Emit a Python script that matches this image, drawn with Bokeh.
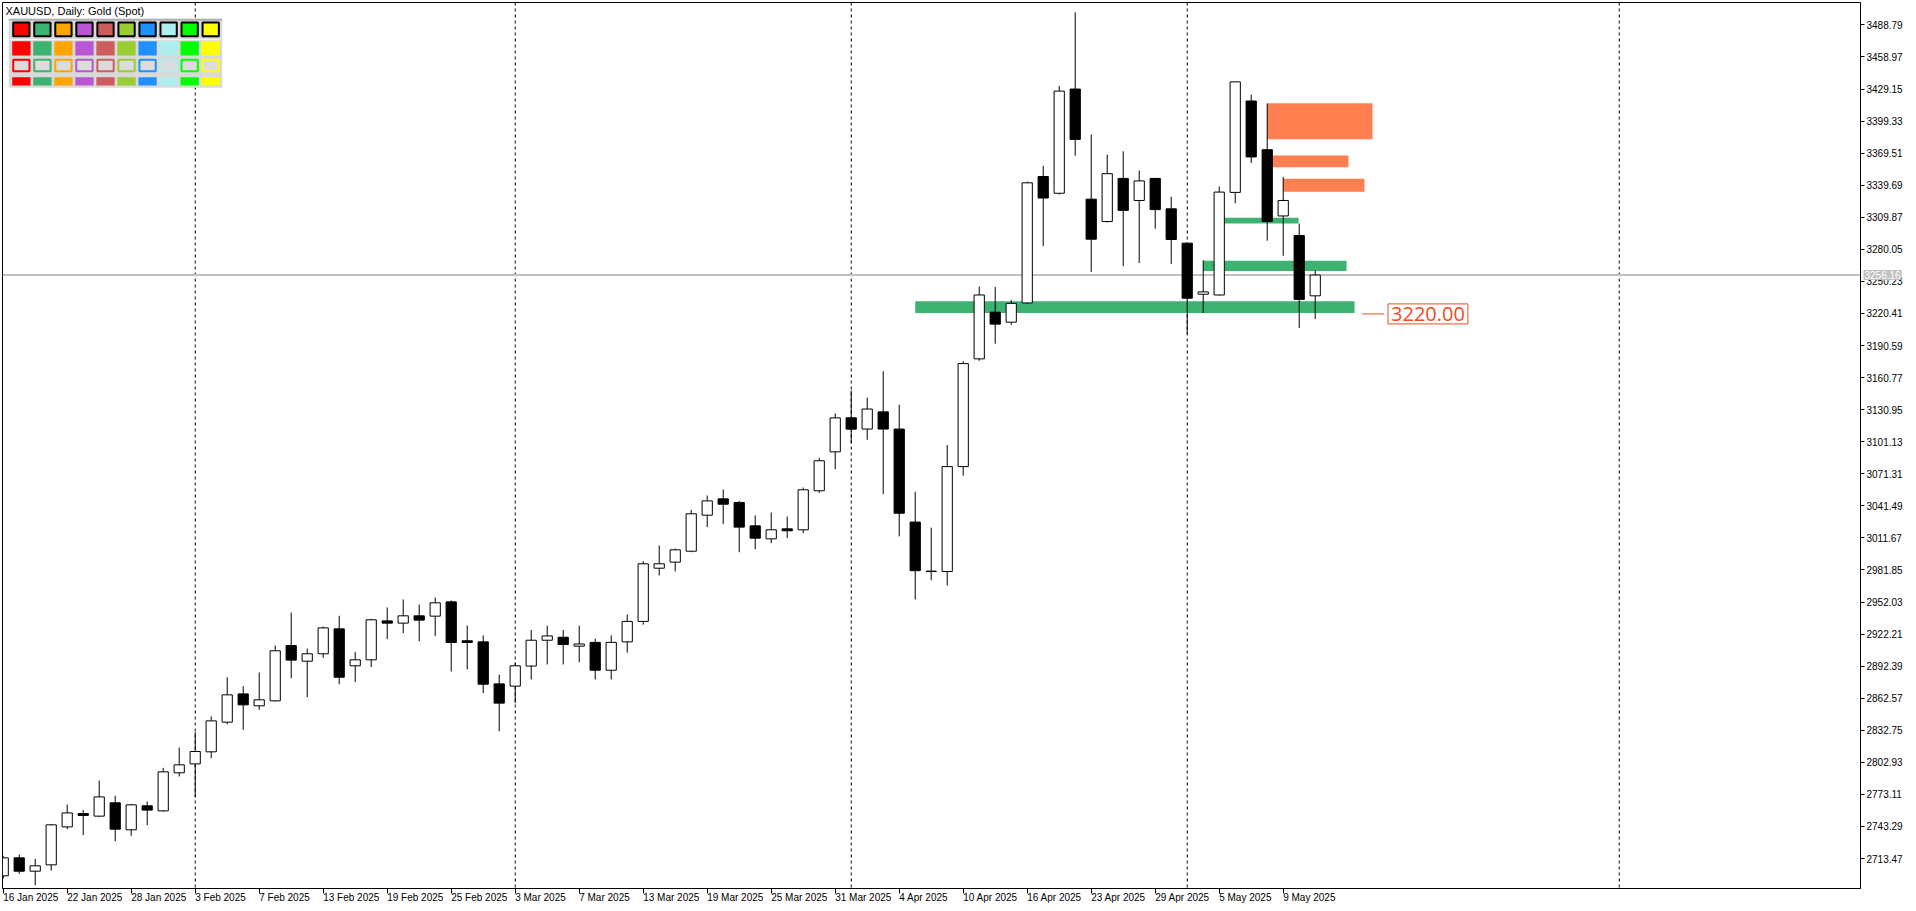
import datetime as dt
from bokeh.plotting import figure
from bokeh.models import Range1d, FixedTicker, NumeralTickFormatter, Span, Label
from bokeh.embed import file_html
from bokeh.resources import INLINE

# ---------------- data ----------------
dates = [
    "2025-01-16", "2025-01-17", "2025-01-20", "2025-01-21", "2025-01-22", "2025-01-23", "2025-01-24",
    "2025-01-27", "2025-01-28", "2025-01-29", "2025-01-30", "2025-01-31",
    "2025-02-03", "2025-02-04", "2025-02-05", "2025-02-06", "2025-02-07", "2025-02-10", "2025-02-11",
    "2025-02-12", "2025-02-13", "2025-02-14", "2025-02-17", "2025-02-18", "2025-02-19", "2025-02-20",
    "2025-02-21", "2025-02-24", "2025-02-25", "2025-02-26", "2025-02-27", "2025-02-28",
    "2025-03-03", "2025-03-04", "2025-03-05", "2025-03-06", "2025-03-07", "2025-03-10", "2025-03-11",
    "2025-03-12", "2025-03-13", "2025-03-14", "2025-03-17", "2025-03-18", "2025-03-19", "2025-03-20",
    "2025-03-21", "2025-03-24", "2025-03-25", "2025-03-26", "2025-03-27", "2025-03-28", "2025-03-31",
    "2025-04-01", "2025-04-02", "2025-04-03", "2025-04-04", "2025-04-07", "2025-04-08", "2025-04-09",
    "2025-04-10", "2025-04-11", "2025-04-14", "2025-04-15", "2025-04-16", "2025-04-17", "2025-04-21",
    "2025-04-22", "2025-04-23", "2025-04-24", "2025-04-25", "2025-04-28", "2025-04-29", "2025-04-30",
    "2025-05-01", "2025-05-02", "2025-05-05", "2025-05-06", "2025-05-07", "2025-05-08", "2025-05-09",
    "2025-05-12", "2025-05-13",
]

opens = [
    2697.4, 2714.1, 2701.7, 2707.6, 2742.9, 2755.3, 2752.9, 2765.3, 2740.2, 2762.5, 2757.8, 2793.2,
    2801.5, 2812.7, 2840.3, 2866.6, 2855.5, 2860.1, 2911.6, 2897.0, 2903.9, 2927.1, 2892.7, 2898.3,
    2934.5, 2932.4, 2939.2, 2938.9, 2952.2, 2916.0, 2915.0, 2875.9,
    2873.8, 2892.5, 2916.5, 2919.3, 2911.0, 2914.5, 2888.6, 2915.0, 2934.0, 2983.5, 2989.1, 2999.3,
    3032.8, 3048.0, 3044.6, 3022.9, 3010.8, 3020.1, 3019.2, 3055.5, 3091.7,
    3123.4, 3112.9, 3128.9, 3112.9, 3026.4, 2980.4, 2980.4, 3078.0, 3178.2, 3221.6, 3212.3, 3230.2,
    3347.8, 3332.2, 3429.1, 3326.7, 3305.9, 3346.0, 3325.5, 3346.0, 3317.7,
    3285.8, 3238.3, 3237.6, 3333.0, 3418.0, 3372.7, 3311.1, 3292.9, 3236.8,
]
highs = [
    2716.0, 2717.2, 2713.2, 2745.7, 2763.7, 2758.7, 2786.0, 2771.8, 2764.3, 2766.5, 2797.8, 2816.7,
    2831.0, 2845.6, 2882.1, 2873.8, 2886.5, 2911.6, 2942.3, 2908.8, 2929.3, 2939.2, 2905.7, 2936.4,
    2947.0, 2954.4, 2949.7, 2956.2, 2953.5, 2930.2, 2920.9, 2884.6,
    2895.8, 2926.0, 2930.0, 2926.0, 2930.0, 2918.0, 2921.0, 2940.4, 2990.0, 3004.6, 3001.8, 3037.8,
    3051.1, 3056.7, 3046.1, 3032.5, 3035.3, 3031.6, 3058.5, 3086.1, 3127.4,
    3148.8, 3142.2, 3166.7, 3135.5, 3054.6, 3021.2, 3098.0, 3176.0, 3245.4, 3245.0, 3232.8, 3343.0,
    3357.8, 3432.0, 3500.5, 3386.8, 3368.2, 3371.2, 3353.4, 3346.5, 3328.9,
    3286.2, 3269.9, 3338.5, 3435.8, 3423.9, 3415.7, 3347.4, 3304.0, 3260.6,
]
lows = [
    2695.0, 2699.2, 2688.7, 2702.3, 2740.8, 2735.2, 2752.0, 2729.6, 2734.6, 2744.5, 2757.0, 2789.8,
    2770.5, 2806.8, 2838.4, 2833.1, 2851.8, 2859.5, 2881.2, 2863.6, 2900.1, 2875.6, 2877.5, 2891.5,
    2917.5, 2923.1, 2915.6, 2920.3, 2887.4, 2889.3, 2867.3, 2831.9,
    2858.0, 2880.0, 2894.0, 2894.0, 2896.0, 2880.0, 2880.0, 2905.0, 2931.0, 2976.7, 2980.4, 2998.4,
    3021.7, 3024.5, 2998.4, 3001.2, 3006.8, 3011.4, 3016.1, 3053.6, 3075.6,
    3099.8, 3102.9, 3052.4, 3013.1, 2954.4, 2972.3, 2967.4, 3069.5, 3176.4, 3192.3, 3209.8, 3229.0,
    3283.2, 3331.1, 3367.1, 3259.1, 3305.1, 3264.3, 3267.3, 3299.2, 3266.5,
    3201.2, 3220.9, 3237.0, 3322.9, 3360.4, 3288.1, 3274.0, 3206.8, 3215.3,
]
closes = [
    2714.1, 2701.7, 2706.7, 2744.8, 2755.9, 2753.5, 2770.8, 2740.8, 2763.4, 2758.5, 2794.1, 2800.6,
    2813.0, 2841.5, 2865.7, 2856.4, 2861.1, 2906.7, 2898.0, 2903.9, 2928.0, 2882.1, 2898.3, 2935.5,
    2932.4, 2939.2, 2935.2, 2951.3, 2914.4, 2914.4, 2875.6, 2858.0,
    2892.7, 2916.5, 2920.5, 2912.5, 2913.0, 2888.6, 2914.5, 2934.0, 2987.6, 2987.6, 3000.6, 3034.1,
    3046.1, 3043.0, 3021.7, 3011.4, 3019.2, 3018.3, 3056.4, 3083.4, 3123.3,
    3112.8, 3131.5, 3112.9, 3034.6, 2981.2, 2980.8, 3078.0, 3173.8, 3237.6, 3210.5, 3229.8, 3341.9,
    3327.8, 3427.2, 3382.3, 3289.5, 3350.4, 3316.3, 3343.7, 3317.0, 3289.2,
    3234.6, 3240.5, 3333.3, 3435.8, 3366.0, 3305.9, 3325.5, 3233.5, 3256.16,
]

price_ticks = [3488.79, 3458.97, 3429.15, 3399.33, 3369.51, 3339.69, 3309.87, 3280.05, 3250.23,
               3220.41, 3190.59, 3160.77, 3130.95, 3101.13, 3071.31, 3041.49, 3011.67, 2981.85,
               2952.03, 2922.21, 2892.39, 2862.57, 2832.75, 2802.93, 2773.11, 2743.29, 2713.47]

# zones (left / right in bar-index units, bottom / top in price)
zone_left = [57, 75, 76, 79, 79, 80]
zone_right = [84.46, 83.96, 80.96, 85.58, 84.08, 85.08]
zone_bottom = [3220.8, 3260.0, 3304.0, 3382.5, 3356.3, 3333.6]
zone_top = [3231.8, 3269.5, 3309.5, 3416.0, 3367.3, 3345.8]
zone_kind = ["support", "support", "support", "resist", "resist", "resist"]

current_price = 3256.16
level_price = 3220.00
next_month = "2025-06-01"

palette = ["#FF0000", "#3CB371", "#FFA500", "#BA55D3", "#CD5C5C",
           "#9ACD32", "#1E90FF", "#AFEEEE", "#00FF00", "#FFFF00"]

title_text = "XAUUSD, Daily:  Gold (Spot)"

# ---------------- derived ----------------
dts = [dt.date.fromisoformat(d) for d in dates]
idx = list(range(len(dts)))
tick_idx = idx[::4]
tick_labels = {i: f"{dts[i].day} {dts[i]:%b} {dts[i].year}" for i in tick_idx}

separators = [i for i in idx[1:] if dts[i].month != dts[i - 1].month]
separators.append(idx[-1] + (dt.date.fromisoformat(next_month) - dts[-1]).days)

# ---------------- figure ----------------
FW, FH = 1858, 886
x_start, x_end = -0.044, 116.08
y_start, y_end = 2685.60, 3509.62

p = figure(frame_width=FW, frame_height=FH,
           x_range=Range1d(x_start, x_end), y_range=Range1d(y_start, y_end),
           y_axis_location="right", output_backend="svg", toolbar_location=None,
           min_border_left=2, min_border_right=0, min_border_top=2, min_border_bottom=0)
p.grid.visible = False
p.background_fill_color = "white"
p.border_fill_color = "white"
p.outline_line_color = "black"
p.outline_line_width = 1

AX_FONT = "Liberation Sans"
p.yaxis.ticker = FixedTicker(ticks=price_ticks)
p.yaxis.formatter = NumeralTickFormatter(format="0.00")
p.yaxis.major_label_text_font = AX_FONT
p.yaxis.major_label_text_font_size = "10px"
p.yaxis.major_label_text_color = "black"
p.yaxis.major_tick_out = 4
p.yaxis.major_tick_in = 0
p.yaxis.minor_tick_out = 0
p.yaxis.minor_tick_in = 0
p.yaxis.major_label_standoff = 2
p.yaxis.axis_line_color = "black"

p.xaxis.ticker = FixedTicker(ticks=tick_idx)
p.xaxis.major_label_overrides = tick_labels
p.xaxis.major_label_text_font = AX_FONT
p.xaxis.major_label_text_font_size = "10px"
p.xaxis.major_label_text_color = "black"
p.xaxis.major_label_orientation = -1e-6   # tiny angle -> labels start at their tick (MT5 style)
p.xaxis.major_tick_out = 5
p.xaxis.major_tick_in = 0
p.xaxis.minor_tick_out = 0
p.xaxis.minor_tick_in = 0
p.xaxis.major_label_standoff = 4
p.xaxis.axis_line_color = "black"

# period separators
for s in separators:
    p.add_layout(Span(location=s, dimension="height", line_color="black",
                      line_dash="3 3", line_width=1, level="underlay"))

# current price line
p.add_layout(Span(location=current_price, dimension="width", line_color="#C0C0C0",
                  line_width=2, level="underlay"))

# zones
zone_colors = ["#3CB371" if k == "support" else "#FF7F50" for k in zone_kind]
p.quad(left=zone_left, right=zone_right, bottom=zone_bottom, top=zone_top,
       fill_color=zone_colors, line_color=None)

# candles
body_top = [max(o, c) for o, c in zip(opens, closes)]
body_bot = [min(o, c) for o, c in zip(opens, closes)]
body_fill = ["white" if c >= o else "black" for o, c in zip(opens, closes)]
p.segment(x0=idx, y0=lows, x1=idx, y1=highs, line_color="black", line_width=1)
p.vbar(x=idx, width=0.64, top=body_top, bottom=body_bot, fill_color=body_fill,
       line_color="black", line_width=1)

# price level label 3220.00
LBL = "#EE4B1F"
p.segment(x0=[84.95], y0=[level_price], x1=[86.3], y1=[level_price], line_color=LBL, line_width=1)
p.add_layout(Label(x=86.55, y=level_price, text=f"{level_price:.2f}", text_font="Open Sans",
                   text_font_size="20px", text_color=LBL, text_baseline="middle", text_align="left",
                   border_line_color=LBL, border_line_width=1, background_fill_color="white",
                   padding=3))

# current price tag on the price axis (placed in the right panel so it is not clipped)
p.add_layout(Label(x=x_end, y=current_price, x_offset=3, text=f"{current_price:.2f}",
                   text_font=AX_FONT, text_font_size="10px", text_color="white",
                   text_baseline="middle", text_align="left", background_fill_color="#C0C0C0",
                   padding=1), "right")

# title
p.add_layout(Label(x=x_start, y=y_end, x_offset=3, y_offset=-2, text=title_text,
                   text_font=AX_FONT, text_font_size="11px", text_color="black",
                   text_baseline="top", text_align="left"))

# colour palette panel (positions in pixels from the frame's top-left corner)
def px2x(px):
    return x_start + px / FW * (x_end - x_start)


def py2y(py):
    return y_end - py / FH * (y_end - y_start)


p.rect(x=[px2x(113.0)], y=[py2y(50.8)], width=213.4, height=69.0, width_units="screen",
       height_units="screen", fill_color="#D9D9D9", line_color=None)
p.rect(x=[px2x(113.0)], y=[py2y(17.3)], width=213.4, height=2, width_units="screen",
       height_units="screen", fill_color="#B0B0B0", line_color=None)
p.rect(x=[px2x(113.0)], y=[py2y(37.2)], width=211.0, height=1.2, width_units="screen",
       height_units="screen", fill_color="#F4F4F4", line_color=None)
cx = [px2x(18.85 + 21.04 * k) for k in range(len(palette))]
p.rect(x=cx, y=[py2y(26.85)] * len(cx), width=16.3, height=13.7, width_units="screen",
       height_units="screen", fill_color=palette, line_color="black", line_width=2)
p.rect(x=cx, y=[py2y(45.85)] * len(cx), width=18.3, height=14.3, width_units="screen",
       height_units="screen", fill_color=palette, line_color=None)
p.rect(x=cx, y=[py2y(63.0)] * len(cx), width=16.3, height=11.4, width_units="screen",
       height_units="screen", fill_color="#DCDCDC", line_color=palette, line_width=2)
p.rect(x=cx, y=[py2y(78.85)] * len(cx), width=18.3, height=8.3, width_units="screen",
       height_units="screen", fill_color=palette, line_color=None)

open("out.html", "w").write(file_html(p, INLINE))
